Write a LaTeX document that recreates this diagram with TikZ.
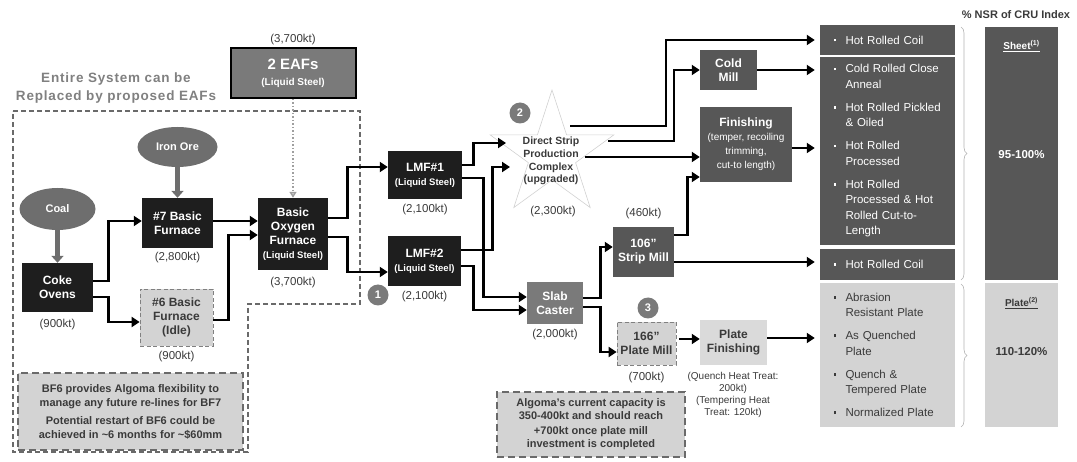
\documentclass[tikz,border=0pt]{standalone}
\usepackage{fontspec}
\setmainfont{Liberation Sans}
\usetikzlibrary{positioning,arrows.meta,shapes.geometric,decorations.pathreplacing}

\definecolor{boxblack}{HTML}{1E1E1E}
\definecolor{boxdark}{HTML}{575757}
\definecolor{boxmid}{HTML}{7A7A7A}
\definecolor{boxlight}{HTML}{D3D3D3}
\definecolor{ovalgray}{HTML}{6E6E6E}
\definecolor{txtgray}{HTML}{3A3A3A}
\definecolor{linegray}{HTML}{6A6A6A}

\newcommand{\fs}[2]{\fontsize{#1}{#2}\selectfont}
\newcommand{\bul}{\makebox[12pt][l]{\raisebox{2.8pt}{\rule{2.6pt}{2.6pt}}}}
\newcommand{\ind}{\hspace*{12pt}}
\newcommand{\sm}[1]{{\mdseries\fs{10}{12.5}#1}}

\begin{document}
\begin{tikzpicture}[x=1pt,y=-1pt,>={Triangle[length=8pt,width=10pt]}]
    \tikzstyle{blk}=[fill=boxblack,text=white,font=\bfseries\fs{12}{14},align=center,inner sep=0pt]
    \tikzstyle{drk}=[blk,fill=boxdark]
    \tikzstyle{lgt}=[blk,fill=boxlight,text=txtgray]
    \tikzstyle{idle}=[lgt,draw=gray,line width=0.8pt,dash pattern=on 4pt off 2.5pt]
    \tikzstyle{oval}=[ellipse,fill=ovalgray,text=white,font=\bfseries\fs{11}{13},inner sep=0pt]
    \tikzstyle{capa}=[text=txtgray,font=\fs{11.5}{13},inner sep=1pt]
    \tikzstyle{badge}=[circle,fill=boxmid,text=white,font=\bfseries\fs{11}{13},minimum size=21pt,inner sep=0pt]
    \tikzstyle{flow}=[->,line width=2.8pt,black]
    \tikzstyle{feed}=[-{Triangle[length=7pt,width=12pt]},line width=4.5pt,ovalgray]
    \tikzstyle{note}=[fill=boxlight,draw=linegray,line width=2pt,dash pattern=on 7pt off 4pt,text=txtgray,align=center,inner sep=0pt]
    \tikzstyle{lstbox}=[fill=boxdark,text=white,font=\fs{11.5}{15.5},align=left,text width=108pt,inner xsep=13.5pt,inner ysep=0pt]
    \useasboundingbox (0,0) rectangle (1077,462);

    % existing iron and steel making
    \draw[linegray,line width=1.6pt,dash pattern=on 5pt off 3pt] (13,111) -- (360,111) -- (360,304) -- (248,304) -- (248,452) -- (13,452) -- cycle;
    \node[text=gray,font=\bfseries\fs{13.5}{18}\addfontfeatures{LetterSpace=6},align=center] (eaftext) at (116,88) {Entire System can be\\Replaced by proposed EAFs};
    \node[oval,minimum width=76pt,minimum height=42pt] (coal) at (57.5,209) {Coal};
    \node[oval,minimum width=80pt,minimum height=40pt] (iron) at (177.5,147) {Iron Ore};
    \node[blk,minimum width=71pt,minimum height=49pt] (coke) at (57.5,287.5) {Coke\\Ovens};
    \node[blk,minimum width=71pt,minimum height=50pt] (bf7) at (177.5,223) {\#7 Basic\\Furnace};
    \node[idle,minimum width=73pt,minimum height=57pt] (bf6) at (176.5,317.5) {\#6 Basic\\Furnace\\(Idle)};
    \node[blk,minimum width=70pt,minimum height=72pt] (bof) at (293,234) {Basic\\Oxygen\\Furnace\\{\fs{9.5}{12}(Liquid Steel)}};
    \node[fill=boxmid,draw=black,line width=2pt,text=white,font=\bfseries\fs{15}{16},align=center,inner sep=0pt,minimum width=125pt,minimum height=50pt] (eaf) at (293,73) {2 EAFs\\{\fs{10}{12}(Liquid Steel)}};
    \node[capa,below=6pt of coke] (cokekt) {(900kt)};
    \node[capa,below=3pt of bf7] (bf7kt) {(2,800kt)};
    \node[capa,below=4pt of bf6] (bf6kt) {(900kt)};
    \node[capa,below=6pt of bof] (bofkt) {(3,700kt)};
    \node[capa,above=1pt of eaf] (eafkt) {(3,700kt)};
    \node[note,font=\bfseries\fs{11}{14},minimum width=225pt,minimum height=77pt] (bfnote) at (130.5,411.5) {BF6 provides Algoma flexibility to\\manage any future re-lines for BF7\\[4pt]Potential restart of BF6 could be\\achieved in \textasciitilde6 months for \textasciitilde\$60mm};

    % ladle furnaces, casting and rolling
    \node[blk,minimum width=74pt,minimum height=48pt] (lmf1) at (425,175) {LMF\#1\\{\fs{9.5}{12}(Liquid Steel)}};
    \node[blk,minimum width=73pt,minimum height=50pt] (lmf2) at (424.5,261) {LMF\#2\\{\fs{9.5}{12}(Liquid Steel)}};
    \node[capa,below=4pt of lmf1] (lmf1kt) {(2,100kt)};
    \node[capa,below=4pt of lmf2] (lmf2kt) {(2,100kt)};
    \node[star,star points=5,star point ratio=2.618,minimum size=130pt,draw=black!18,line width=0.6pt,inner sep=0pt] (dspc) at (552,155) {};
    \node[text=txtgray,font=\bfseries\fs{10.5}{12.7},align=center] (dspctxt) at (551,161) {Direct Strip\\Production\\Complex\\(upgraded)};
    \node[capa] (dspckt) at (553,212) {(2,300kt)};
    \node[blk,fill=boxmid,minimum width=56pt,minimum height=42pt] (slab) at (555,303) {Slab\\Caster};
    \node[capa,below=4pt of slab] (slabkt) {(2,000kt)};
    \node[drk,minimum width=61pt,minimum height=50pt] (strip) at (643.5,252) {106”\\Strip Mill};
    \node[capa,above=7pt of strip] (stripkt) {(460kt)};
    \node[idle,minimum width=59pt,minimum height=43pt] (plate) at (646.5,343.5) {166”\\Plate Mill};
    \node[capa,below=6pt of plate] (platekt) {(700kt)};
    \node[lgt,fill=boxlight!85,minimum width=67pt,minimum height=45pt] (pfin) at (733.5,342.5) {Plate\\Finishing};
    \node[capa,font=\fs{10}{12},align=center] (pfinkt) at (733,395) {(Quench Heat Treat:\\200kt)\\(Tempering Heat\\Treat: 120kt)};
    \node[drk,minimum width=57pt,minimum height=40pt] (cold) at (728.5,70) {Cold\\Mill};
    \node[drk,minimum width=92pt,minimum height=75pt] (fin) at (746,144.5) {Finishing\\\sm{(temper, recoiling}\\\sm{trimming,}\\\sm{cut-to length)}};
    \node[note,font=\bfseries\fs{11}{13},minimum width=188pt,minimum height=65pt] (capnote) at (591,424.5) {Algoma’s current capacity is\\350-400kt and should reach\\[2pt]+700kt once plate mill\\investment is completed};
    \node[badge] (n1) at (378,295) {1};
    \node[badge] (n2) at (520,113) {2};
    \node[badge] (n3) at (648,308) {3};

    % products
    \node[lstbox,minimum height=30pt] (hrc1) at (887.5,40) {\bul Hot Rolled Coil};
    \node[lstbox,minimum height=188pt] (sheetlist) at (887.5,151) {\bul Cold Rolled Close\\\ind Anneal\\[7.5pt]\bul Hot Rolled Pickled\\\ind\& Oiled\\[7.5pt]\bul Hot Rolled\\\ind Processed\\[7.5pt]\bul Hot Rolled\\\ind Processed \& Hot\\\ind Rolled Cut-to-\\\ind Length};
    \node[lstbox,minimum height=31pt] (hrc2) at (887.5,264.5) {\bul Hot Rolled Coil};
    \node[lstbox,fill=boxlight,text=txtgray,minimum height=144pt] (platelist) at (887.5,355) {\bul Abrasion\\\ind Resistant Plate\\[7.5pt]\bul As Quenched\\\ind Plate\\[7.5pt]\bul Quench \&\\\ind Tempered Plate\\[7.5pt]\bul Normalized Plate};
    \node[fill=boxdark,minimum width=73pt,minimum height=253pt] (sheetcol) at (1021.5,153.5) {};
    \node[fill=boxlight,minimum width=73pt,minimum height=144pt] (platecol) at (1021.5,355) {};
    \node[text=txtgray,font=\bfseries\fs{11}{13}] (cru) at (1016,15) {\% NSR of CRU Index};
    \node[text=white,font=\bfseries\fs{10}{12}] (sheetlbl) at (1021.5,46) {\underline{Sheet\textsuperscript{(1)}}};
    \node[text=white,font=\bfseries\fs{11.5}{14}] (sheetpct) at (1021.5,155) {95-100\%};
    \node[text=txtgray,font=\bfseries\fs{10}{12}] (platelbl) at (1021.5,303) {\underline{Plate\textsuperscript{(2)}}};
    \node[text=txtgray,font=\bfseries\fs{11.5}{14}] (platepct) at (1021.5,352) {110-120\%};
    \draw[decorate,decoration={brace,amplitude=6pt},gray!60,line width=0.6pt] (961,27) -- (961,280);
    \draw[decorate,decoration={brace,amplitude=6pt},gray!60,line width=0.6pt] (961,284) -- (961,427);

    % star in/out points
    \coordinate (dsin1) at (506,143);
    \coordinate (dsin2) at (510,167);
    \coordinate (dsout1) at (570,126);
    \coordinate (dsout2) at (608,141);
    \coordinate (dsout3) at (585,157);

    % flows
    \draw[feed] (coal) -- (coke);
    \draw[feed] (iron) -- (bf7);
    \draw[dotted,line width=1.5pt,gray!75,-{Triangle[open,length=6pt,width=7pt]}] (eaf) -- (bof);
    \draw[flow] ([yshift=6.5pt]coke.east) -- ++(15,0) |- ([yshift=2pt]bf7.west);
    \draw[flow] ([yshift=-9.5pt]coke.east) -- ++(15,0) |- ([yshift=-4.5pt]bf6.west);
    \draw[flow] ([yshift=2pt]bf7.east) -- ([yshift=2pt]bf7.east -| bof.west);
    \draw[flow] ([yshift=-2.5pt]bf6.east) -- ++(15,0) |- ([yshift=-1pt]bof.west);
    \draw[flow] ([yshift=16pt]bof.east) -- ++(19,0) |- ([yshift=8pt]lmf1.west);
    \draw[flow] ([yshift=-3pt]bof.east) -- ++(19,0) |- ([yshift=-11pt]lmf2.west);
    \draw[flow] ([yshift=10pt]lmf1.east) -- ++(11,0) |- (dsin1);
    \draw[flow] ([yshift=-3pt]lmf1.east) -- ++(21,0) |- ([yshift=6pt]slab.west);
    \draw[flow] ([yshift=11pt]lmf2.east) -- ++(31.5,0) |- (dsin2);
    \draw[flow] ([yshift=-5pt]lmf2.east) -- ++(12,0) |- ([yshift=-7pt]slab.west);
    \draw[flow] ([yshift=5pt]slab.east) -- ++(17,0) |- ([yshift=5pt]strip.west);
    \draw[flow] ([yshift=-4pt]slab.east) -- ++(17,0) |- ([yshift=-8.5pt]plate.west);
    \draw[flow] ([yshift=17pt]strip.east) -- ++(13,0) |- ([yshift=-32.5pt]fin.west);
    \draw[flow,shorten >=5pt] ([yshift=-10pt]strip.east) -- ([yshift=-10pt]strip.east -| hrc2.west);
    \draw[flow,shorten >=5pt] (dsout1) -- ++(96,0) |- (hrc1);
    \draw[flow] (dsout2) -- ++(66,0) |- (cold);
    \draw[flow] (dsout3) -- (dsout3 -| fin.west);
    \draw[flow,shorten >=5pt] (cold.east) -- (cold.east -| sheetlist.west);
    \draw[flow,shorten >=5pt] ([yshift=-3.5pt]fin.east) -- ([yshift=-3.5pt]fin.east -| sheetlist.west);
    \draw[flow,shorten <=3pt] ([yshift=4.5pt]plate.east) -- ([yshift=4.5pt]plate.east -| pfin.west);
    \draw[flow,shorten >=5pt] ([yshift=4.5pt]pfin.east) -- ([yshift=4.5pt]pfin.east -| platelist.west);
\end{tikzpicture}
\end{document}
